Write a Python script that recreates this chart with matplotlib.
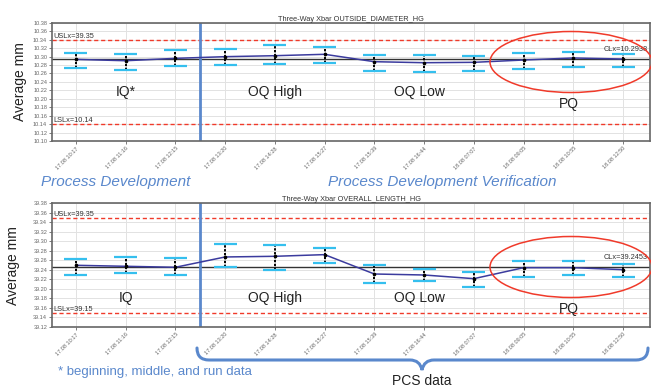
import matplotlib
matplotlib.use("Agg")
import matplotlib.pyplot as plt
from matplotlib.patches import Ellipse, PathPatch
from matplotlib.path import Path

plt.rcParams['font.family'] = ['Liberation Sans', 'DejaVu Sans']

# sample times (x tick labels)
time_labels = ['17.08 10:17', '17.08 11:16', '17.08 12:15', '17.08 13:20',
               '17.08 14:28', '17.08 15:27', '17.08 15:39', '17.08 16:44',
               '18.08 07:07', '18.08 09:05', '18.08 10:55', '18.08 12:50']
xs = list(range(1, len(time_labels) + 1))

# outside diameter subgroup means / ranges
od_mean = [10.2932, 10.2900, 10.2956, 10.2996, 10.3019, 10.3052,
           10.2877, 10.2853, 10.2862, 10.2917, 10.2965, 10.2940]
od_hi = [10.3090, 10.3066, 10.3153, 10.3185, 10.3280, 10.3232,
         10.3043, 10.3027, 10.3012, 10.3075, 10.3114, 10.3052]
od_lo = [10.2735, 10.2688, 10.2774, 10.2800, 10.2815, 10.2839,
         10.2664, 10.2633, 10.2650, 10.2704, 10.2744, 10.2752]
od_cl, od_usl, od_lsl = 10.2938, 10.34, 10.14

# overall length subgroup means / ranges
ol_mean = [39.2497, 39.2476, 39.2455, 39.2672, 39.2686, 39.2721,
           39.2314, 39.2293, 39.2216, 39.2447, 39.2447, 39.2405]
ol_hi = [39.2637, 39.2665, 39.2651, 39.2938, 39.2917, 39.2868,
         39.2504, 39.2420, 39.2356, 39.2595, 39.2595, 39.2532]
ol_lo = [39.2293, 39.2335, 39.2293, 39.2469, 39.2398, 39.2539,
         39.2132, 39.2160, 39.2034, 39.2244, 39.2293, 39.2244]
ol_cl, ol_usl, ol_lsl = 39.2453, 39.35, 39.15

phase_names_top = ['IQ*', 'OQ High', 'OQ Low', 'PQ']
phase_names_bot = ['IQ', 'OQ High', 'OQ Low', 'PQ']
phase_x = [2, 5, 7.9, 10.9]

BLUE = '#5a88cc'
CYAN = '#35bfee'
RED = '#f03a2a'


def xbar(ax, mean, hi, lo, cl, usl, lsl, ylim, title, usl_txt, lsl_txt, phases, phase_y):
    ax.set_xlim(0.52, 12.54)
    ax.set_ylim(*ylim)
    step = 0.02
    n = int(round((ylim[1] - ylim[0]) / step))
    ax.set_yticks([ylim[0] + i * step for i in range(n + 1)])
    ax.yaxis.set_major_formatter(matplotlib.ticker.FormatStrFormatter('%.2f'))
    ax.set_xticks(xs)
    ax.set_xticklabels(time_labels, rotation=45, ha='right', rotation_mode='anchor')
    ax.tick_params(labelsize=4, colors='#666666', length=2, width=0.6, pad=1.5)
    ax.grid(True, color='#e2e2e2', lw=0.7)
    ax.set_axisbelow(True)
    for s in ax.spines.values():
        s.set_color('#666666')
        s.set_linewidth(1.2)

    ax.axhline(usl, color=RED, lw=1, ls=(0, (3, 2)))
    ax.axhline(lsl, color=RED, lw=1, ls=(0, (3, 2)))
    ax.axhline(cl, color='#333333', lw=1)
    ax.axvline(3.5, color=BLUE, lw=2)

    ax.vlines(xs, lo, hi, color='black', lw=1.4, ls=(0, (1.2, 0.8)), zorder=3)
    ax.hlines(hi, [x - 0.23 for x in xs], [x + 0.23 for x in xs], color=CYAN, lw=1.6, zorder=3)
    ax.hlines(lo, [x - 0.23 for x in xs], [x + 0.23 for x in xs], color=CYAN, lw=1.6, zorder=3)
    ax.plot(xs, mean, color='#3b3b9e', lw=1.1, zorder=4)
    ax.plot(xs, mean, 'o', color='black', ms=1.6, zorder=5)

    ax.text(0.55, usl, usl_txt, fontsize=5.3, color='#333333', va='bottom')
    ax.text(0.55, lsl, lsl_txt, fontsize=5.3, color='#333333', va='bottom')
    ax.text(12.5, cl + (ylim[1] - ylim[0]) * 0.055, 'CLx=%.4f' % cl,
            fontsize=5.3, color='#333333', ha='right', va='bottom')
    ax.set_title(title, fontsize=5.3, color='#333333', pad=1.5, x=0.5)
    ax.set_ylabel('Average mm', fontsize=10, color='#222222')

    for name, px, py in zip(phases, phase_x, phase_y):
        ax.text(px, py, name, fontsize=10, color='#222222', ha='center', va='center')


fig = plt.figure(figsize=(6.51, 3.88), dpi=100)
W, H = 651.0, 388.0

ax1 = fig.add_axes([52 / W, 1 - 141 / H, 598 / W, 118.3 / H])
xbar(ax1, od_mean, od_hi, od_lo, od_cl, od_usl, od_lsl, (10.10, 10.38),
     'Three-Way Xbar OUTSIDE_DIAMETER_HG', 'USLx=39.35', 'LSLx=10.14',
     phase_names_top, [10.216, 10.216, 10.216, 10.187])
ax1.yaxis.set_label_coords(-0.041, 0.5)

ax2 = fig.add_axes([52 / W, 1 - 327 / H, 598 / W, 123.7 / H])
xbar(ax2, ol_mean, ol_hi, ol_lo, ol_cl, ol_usl, ol_lsl, (39.12, 39.38),
     'Three-Way Xbar OVERALL_LENGTH_HG', 'USLx=39.35', 'LSLx=39.15',
     phase_names_bot, [39.182, 39.182, 39.182, 39.158])
ax2.yaxis.set_label_coords(-0.054, 0.5)

# red ellipses around PQ
for cy in (62, 267):
    fig.patches.append(Ellipse((571 / W, 1 - cy / H), 162 / W, 61 / H,
                               transform=fig.transFigure, fill=False,
                               ec=RED, lw=1.1))

# annotations
fig.text(116 / W, 1 - 182 / H, 'Process Development', fontsize=11,
         style='italic', color=BLUE, ha='center', va='center')
fig.text(442 / W, 1 - 182 / H, 'Process Development Verification', fontsize=11,
         style='italic', color=BLUE, ha='center', va='center')
fig.text(155 / W, 1 - 372 / H, '* beginning, middle, and run data', fontsize=9.5,
         color=BLUE, ha='center', va='center')
fig.text(422 / W, 1 - 381 / H, 'PCS data', fontsize=10, color='#222222',
         ha='center', va='center')

# curly brace under lower chart
pts = [(197, 348), (197, 360), (209, 360), (410, 360), (420, 360), (422, 370),
       (424, 360), (434, 360), (636, 360), (648, 360), (648, 348)]
codes = [Path.MOVETO, Path.CURVE3, Path.CURVE3, Path.LINETO, Path.CURVE3, Path.CURVE3,
         Path.CURVE3, Path.CURVE3, Path.LINETO, Path.CURVE3, Path.CURVE3]
brace = Path([(x / W, 1 - y / H) for x, y in pts], codes)
fig.patches.append(PathPatch(brace, transform=fig.transFigure, fill=False,
                             ec=BLUE, lw=2.2, capstyle='round'))

fig.savefig('out.png', dpi=100)
